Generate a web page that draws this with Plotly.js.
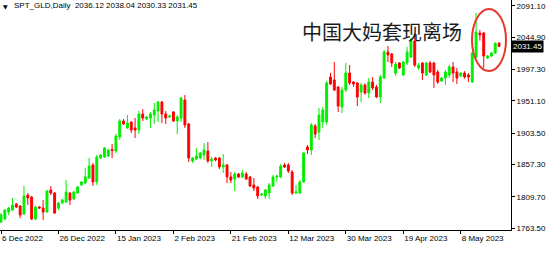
<!DOCTYPE html>
<html>
<head>
<meta charset="utf-8">
<script src="https://cdn.plot.ly/plotly-3.0.1.min.js"></script>
<style>
html,body{margin:0;padding:0;background:#fff;}
#chart{width:554px;height:253px;}
</style>
</head>
<body>
<div id="chart"></div>
<script>
// ---- data (daily SPT_GLD candles) ----
const openP = [
1772.4,1776.8,1787.1,1790.1,1798.9,1796.0,1784.2,1812.2,1809.2,1776.8,
1794.5,1793.0,1787.1,1819.6,1815.1,1793.0,1800.4,1801.9,1815.1,1806.3,
1815.1,1827.0,1829.9,1837.3,1856.5,1831.4,1866.8,1868.3,1869.7,1879.5,
1877.1,1897.8,1921.4,1911.1,1919.9,1911.1,1908.1,1931.7,1924.3,1925.8,
1930.2,1936.1,1949.4,1931.7,1927.3,1934.7,1921.4,1925.8,1952.4,1917.0,
1862.4,1865.3,1866.8,1871.2,1877.1,1862.4,1866.8,1866.8,1853.5,1856.5,
1838.8,1835.8,1843.2,1838.8,1843.2,1838.8,1827.0,1824.0,1812.2,1810.7,
1815.1,1825.5,1838.8,1838.8,1856.5,1856.5,1846.1,1815.1,1815.1,1831.4,
1883.0,1878.6,1914.0,1905.2,1919.9,1919.9,1986.3,1981.9,1971.6,1942.0,
1967.1,1992.2,1978.9,1977.5,1964.2,1974.5,1962.7,1978.9,1971.6,1956.8,
1984.8,2023.2,2020.3,1992.0,2007.0,1989.3,2007.0,2015.8,2039.4,1999.6,
2007.0,1989.3,2007.0,2007.0,1993.7,1980.4,1984.8,1989.3,2001.1,1993.7,
1987.8,1992.2,1989.3,1978.9,2015.8,2051.2,2051.2,2014.4,2017.3,2021.7,
2036.12];
const highP = [
1785.6,1791.5,1794.5,1807.8,1800.4,1797.4,1825.5,1815.1,1810.7,1796.0,
1796.0,1804.8,1819.6,1825.5,1816.6,1801.9,1806.3,1834.3,1816.6,1818.1,
1825.5,1832.9,1852.0,1866.8,1859.4,1871.2,1872.7,1883.0,1880.1,1887.5,
1902.2,1924.3,1924.3,1930.2,1920.5,1925.8,1936.1,1939.0,1928.8,1934.7,
1948.0,1950.9,1951.0,1936.1,1930.2,1936.1,1930.2,1956.8,1959.8,1918.4,
1868.3,1881.5,1875.7,1888.9,1890.4,1868.3,1868.0,1868.3,1872.7,1857.9,
1846.1,1846.1,1844.7,1849.1,1846.1,1840.2,1837.3,1825.5,1815.0,1821.0,
1829.9,1841.7,1841.7,1857.9,1859.4,1859.4,1849.1,1827.0,1834.3,1876.0,
1886.0,1918.4,1917.0,1940.5,1942.0,1980.4,1992.2,2008.4,1973.0,1971.6,
2007.0,2004.0,1980.4,1978.9,1977.5,1977.0,1984.8,1986.3,1974.5,1989.3,
2026.2,2032.1,2021.7,2008.4,2008.4,2010.0,2030.6,2043.8,2051.2,2007.0,
2008.4,2008.4,2010.0,2008.4,1996.6,1986.3,1996.6,2004.0,2008.4,1999.6,
1993.7,1995.0,1992.2,2023.2,2080.8,2055.7,2052.7,2018.8,2023.2,2037.5,
2038.04];
const lowP = [
1770.9,1775.3,1782.7,1789.0,1793.0,1778.3,1782.7,1797.4,1775.3,1775.3,
1791.5,1775.3,1785.6,1812.2,1784.2,1790.1,1799.0,1800.4,1797.4,1804.8,
1813.7,1825.5,1828.4,1835.8,1825.5,1827.0,1865.3,1866.8,1868.3,1866.8,
1874.2,1893.4,1915.5,1910.0,1903.7,1896.3,1902.2,1921.4,1922.9,1911.1,
1917.0,1919.9,1918.4,1917.0,1925.8,1919.9,1902.2,1919.9,1911.1,1860.9,
1859.4,1863.8,1865.3,1863.8,1859.4,1853.5,1862.0,1850.5,1844.7,1829.9,
1829.9,1818.1,1837.3,1837.3,1834.3,1824.0,1818.1,1806.3,1810.7,1806.3,
1806.3,1824.0,1831.4,1837.3,1852.0,1844.7,1812.2,1813.7,1813.7,1829.9,
1872.7,1871.2,1896.3,1893.4,1911.1,1916.0,1974.5,1965.6,1934.7,1933.2,
1964.2,1974.5,1972.0,1943.5,1949.4,1960.0,1955.3,1967.1,1955.3,1948.0,
1983.0,2008.4,2001.1,1987.8,1998.0,1987.8,2004.0,2014.4,2001.1,1996.6,
1981.9,1987.8,1992.0,1970.1,1976.0,1978.9,1974.5,1984.8,1978.9,1976.0,
1986.3,1984.0,1978.9,1977.5,2014.4,2040.0,1999.6,2013.0,2015.8,2020.3,
2030.33];
const closeP = [
1782.7,1790.1,1793.0,1797.4,1794.5,1782.7,1810.7,1807.8,1776.8,1794.5,
1793.0,1787.1,1818.1,1815.1,1785.6,1800.4,1804.8,1816.6,1804.8,1816.6,
1824.0,1831.4,1838.8,1855.0,1831.4,1868.3,1871.2,1881.5,1878.6,1877.7,
1899.3,1921.4,1917.0,1918.4,1908.1,1908.1,1931.7,1925.8,1927.3,1931.7,
1937.6,1949.4,1931.7,1925.8,1928.8,1921.4,1927.3,1955.3,1915.5,1866.8,
1866.8,1869.7,1874.2,1878.6,1862.4,1865.3,1863.8,1853.5,1856.5,1838.8,
1834.3,1843.2,1838.8,1844.7,1835.8,1825.5,1822.5,1810.7,1813.7,1819.6,
1827.0,1838.8,1840.2,1855.0,1853.5,1847.6,1815.1,1816.6,1831.4,1874.2,
1878.6,1915.5,1902.2,1930.2,1937.6,1977.5,1976.0,1967.1,1943.5,1967.1,
1992.2,1977.5,1976.0,1956.8,1974.5,1962.7,1978.9,1970.1,1956.8,1986.3,
2023.2,2018.8,2007.0,2005.5,1999.6,2008.4,2023.2,2040.9,2004.0,2004.0,
1992.2,2007.0,1993.7,1989.3,1978.9,1984.8,1993.7,2001.1,1992.2,1984.8,
1992.2,1986.3,1986.3,2021.7,2052.7,2048.3,2017.3,2017.3,2021.7,2036.12,
2031.45];

const dateLabels = ["6 Dec 2022","26 Dec 2022","15 Jan 2023","2 Feb 2023","21 Feb 2023",
                    "12 Mar 2023","30 Mar 2023","19 Apr 2023","8 May 2023"];
const dateTickBars = [0,15,30,45,60,75,90,105,120];
const priceTicks = [1763.5,1809.7,1857.3,1903.5,1951.1,1997.3,2044.9,2091.1];
const symbolName = "SPT_GLD,Daily";
const noteText = "中国大妈套现离场";

// ---- chart ----
const barIdx = openP.map((_, i) => i);
const last = openP.length - 1;
const fmt = v => v.toFixed(2);

const GREEN = '#00ee00', RED = '#ff0000';
const FONT = 'Liberation Sans, Arial, sans-serif';

const trace = {
  type: 'candlestick',
  x: barIdx, open: openP, high: highP, low: lowP, close: closeP,
  increasing: {line: {color: GREEN, width: 1}, fillcolor: GREEN},
  decreasing: {line: {color: RED, width: 1}, fillcolor: RED},
  whiskerwidth: 0,
  hoverinfo: 'skip'
};

const PW = 511, PH = 230;

const layout = {
  width: 554, height: 253,
  margin: {l: 0, r: 554 - PW, t: 0, b: 253 - PH, pad: 0},
  paper_bgcolor: '#ffffff', plot_bgcolor: '#ffffff',
  showlegend: false,
  hovermode: false,
  font: {family: FONT, size: 8, color: '#000'},
  xaxis: {
    type: 'linear',
    range: [-0.26, 133.12],
    rangeslider: {visible: false},
    tickvals: dateTickBars, ticktext: dateLabels,
    ticks: 'outside', ticklen: 3, tickcolor: '#000', tickwidth: 1,
    ticklabelposition: 'outside right',
    showline: true, linecolor: '#000', linewidth: 1,
    showgrid: false, zeroline: false, fixedrange: true,
    tickfont: {family: FONT, size: 8, color: '#000'}
  },
  yaxis: {
    side: 'right',
    range: [1760.55, 2099.94],
    tickvals: priceTicks, ticktext: priceTicks.map(fmt),
    ticks: 'outside', ticklen: 3, tickcolor: '#000', tickwidth: 1,
    showline: true, linecolor: '#000', linewidth: 1,
    showgrid: false, zeroline: false, fixedrange: true,
    tickfont: {family: FONT, size: 8, color: '#000'}
  },
  shapes: [{
    type: 'circle', xref: 'paper', yref: 'paper',
    x0: 472 / PW, x1: 506 / PW, y0: 1 - 71 / PH, y1: 1 - 9 / PH,
    line: {color: '#e8392f', width: 2}
  }],
  annotations: [
    {xref: 'paper', yref: 'paper', x: 5.5 / PW, y: 1 - 6.5 / PH,
     xanchor: 'center', yanchor: 'middle', showarrow: false,
     text: '▼', font: {family: 'DejaVu Sans', size: 6, color: '#000'}},
    {xref: 'paper', yref: 'paper', x: 12 / PW, y: 1 - 6 / PH,
     xanchor: 'left', yanchor: 'middle', showarrow: false,
     text: symbolName + '  ' + [openP[last], highP[last], lowP[last], closeP[last]].map(fmt).join(' '),
     font: {family: FONT, size: 8, color: '#000'}},
    {xref: 'paper', yref: 'paper', x: 382 / PW, y: 1 - 31 / PH,
     xanchor: 'center', yanchor: 'middle', showarrow: false,
     text: noteText, font: {family: 'Noto Sans CJK SC', size: 20, color: '#1a1a1a'}},
    {xref: 'paper', yref: 'y', x: 1, y: closeP[last],
     xanchor: 'left', yanchor: 'middle', showarrow: false,
     text: fmt(closeP[last]), bgcolor: '#000', borderpad: 1,
     font: {family: FONT, size: 8, color: '#fff'}}
  ]
};

Plotly.newPlot('chart', [trace], layout, {displayModeBar: false, staticPlot: true});
</script>
</body>
</html>
